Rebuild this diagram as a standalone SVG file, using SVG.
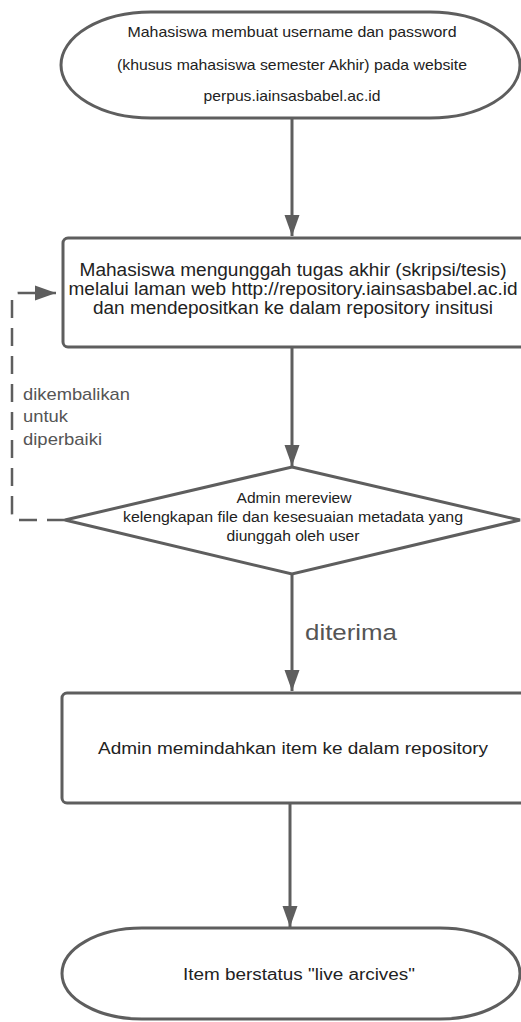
<svg xmlns="http://www.w3.org/2000/svg" width="521" height="1022" viewBox="0 0 521 1022">
<style>
.shape{fill:#fff;stroke:#5e5e5e;stroke-width:3}
.line{fill:none;stroke:#5e5e5e;stroke-width:3}
.dash{fill:none;stroke:#5e5e5e;stroke-width:2.5;stroke-dasharray:18 10}
text{font-family:"Liberation Sans",Arial,sans-serif;fill:#222;text-anchor:middle}
tspan,text{lengthAdjust:spacingAndGlyphs}
.lbl{fill:#555;text-anchor:start}
</style>
<defs>
<marker id="arr" markerUnits="userSpaceOnUse" markerWidth="22" markerHeight="16" refX="21" refY="8" orient="auto" viewBox="0 0 22 16">
<path d="M0,0.5 L21,8 L0,15.5 z" fill="#5e5e5e"/>
</marker>
</defs>
<g id="connectors">
<path class="line" d="M292,119 V236" marker-end="url(#arr)"/>
<path class="line" d="M292,348 V466" marker-end="url(#arr)"/>
<path class="line" d="M292,575 V691" marker-end="url(#arr)"/>
<path class="line" d="M290,804 V927" marker-end="url(#arr)"/>
<path class="dash" d="M65,520 H19 Q12,520 12,513 V300 Q12,293 19,293 H56" marker-end="url(#arr)"/>
</g>
<g id="n1">
<rect class="shape" x="61" y="12" width="459" height="106" rx="90" ry="53"/>
<text font-size="14.5"><tspan x="292" y="37" textLength="329" lengthAdjust="spacingAndGlyphs">Mahasiswa membuat username dan password</tspan><tspan x="292" y="70" textLength="350" lengthAdjust="spacingAndGlyphs">(khusus mahasiswa semester Akhir) pada website</tspan><tspan x="292" y="101" textLength="177" lengthAdjust="spacingAndGlyphs">perpus.iainsasbabel.ac.id</tspan></text>
</g>
<g id="n2">
<rect class="shape" x="63" y="238" width="470" height="109" rx="5"/>
<text font-size="17.5"><tspan x="293" y="276" textLength="427" lengthAdjust="spacingAndGlyphs">Mahasiswa mengunggah tugas akhir (skripsi/tesis)</tspan><tspan x="293" y="295" textLength="449" lengthAdjust="spacingAndGlyphs">melalui laman web http://repository.iainsasbabel.ac.id</tspan><tspan x="293" y="314" textLength="400" lengthAdjust="spacingAndGlyphs">dan mendepositkan ke dalam repository insitusi</tspan></text>
</g>
<g id="n3">
<path class="shape" d="M292,467 L520,520 L292,574 L65,520 Z"/>
<text font-size="14"><tspan x="294" y="503" textLength="115" lengthAdjust="spacingAndGlyphs">Admin mereview</tspan><tspan x="293" y="522" textLength="340" lengthAdjust="spacingAndGlyphs">kelengkapan file dan kesesuaian metadata yang</tspan><tspan x="293" y="541" textLength="133" lengthAdjust="spacingAndGlyphs">diunggah oleh user</tspan></text>
</g>
<g id="n4">
<rect class="shape" x="62" y="693" width="470" height="110" rx="5"/>
<text font-size="16" x="293" y="754" textLength="390" lengthAdjust="spacingAndGlyphs">Admin memindahkan item ke dalam repository</text>
</g>
<g id="n5">
<rect class="shape" x="62" y="928" width="458" height="91" rx="80" ry="45.5"/>
<text font-size="16" x="299" y="980" textLength="232" lengthAdjust="spacingAndGlyphs">Item berstatus "live arcives"</text>
</g>
<g id="labels">
<text class="lbl" font-size="17"><tspan x="23" y="400" textLength="107" lengthAdjust="spacingAndGlyphs">dikembalikan</tspan><tspan x="23" y="422" textLength="45" lengthAdjust="spacingAndGlyphs">untuk</tspan><tspan x="23" y="445" textLength="79" lengthAdjust="spacingAndGlyphs">diperbaiki</tspan></text>
<text class="lbl" font-size="22" x="305" y="640" textLength="92" lengthAdjust="spacingAndGlyphs">diterima</text>
</g>
</svg>
